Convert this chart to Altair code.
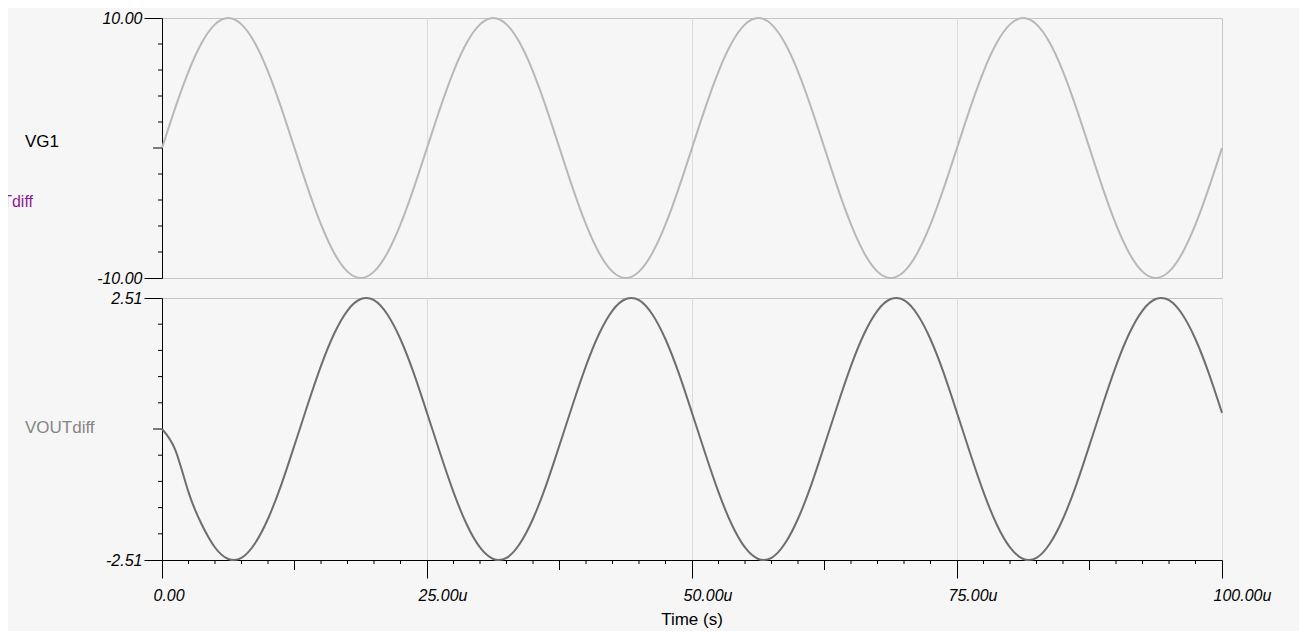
import altair as alt
import pandas as pd

# ---------------- data ----------------
time_us = [0, 1.25, 2.5, 3.75, 5, 6.25, 7.5, 8.75, 10, 11.25, 12.5, 13.75, 15, 16.25, 17.5, 18.75, 20, 21.25, 22.5, 23.75,
           25, 26.25, 27.5, 28.75, 30, 31.25, 32.5, 33.75, 35, 36.25, 37.5, 38.75, 40, 41.25, 42.5, 43.75, 45, 46.25, 47.5, 48.75,
           50, 51.25, 52.5, 53.75, 55, 56.25, 57.5, 58.75, 60, 61.25, 62.5, 63.75, 65, 66.25, 67.5, 68.75, 70, 71.25, 72.5, 73.75,
           75, 76.25, 77.5, 78.75, 80, 81.25, 82.5, 83.75, 85, 86.25, 87.5, 88.75, 90, 91.25, 92.5, 93.75, 95, 96.25, 97.5, 98.75,
           100]

vg1 = [0, 3.09, 5.88, 8.09, 9.51, 10.0, 9.51, 8.09, 5.88, 3.09, 0, -3.09, -5.88, -8.09, -9.51, -10.0, -9.51, -8.09, -5.88, -3.09,
       0, 3.09, 5.88, 8.09, 9.51, 10.0, 9.51, 8.09, 5.88, 3.09, 0, -3.09, -5.88, -8.09, -9.51, -10.0, -9.51, -8.09, -5.88, -3.09,
       0, 3.09, 5.88, 8.09, 9.51, 10.0, 9.51, 8.09, 5.88, 3.09, 0, -3.09, -5.88, -8.09, -9.51, -10.0, -9.51, -8.09, -5.88, -3.09,
       0, 3.09, 5.88, 8.09, 9.51, 10.0, 9.51, 8.09, 5.88, 3.09, 0, -3.09, -5.88, -8.09, -9.51, -10.0, -9.51, -8.09, -5.88, -3.09,
       0]

vout = [0.0, -0.40, -1.21, -1.83, -2.27, -2.49, -2.47, -2.20, -1.72, -1.07, -0.31, 0.47, 1.21, 1.83, 2.27, 2.49, 2.47, 2.20, 1.72, 1.07,
        0.31, -0.47, -1.21, -1.83, -2.27, -2.49, -2.47, -2.20, -1.72, -1.07, -0.31, 0.47, 1.21, 1.83, 2.27, 2.49, 2.47, 2.20, 1.72, 1.07,
        0.31, -0.47, -1.21, -1.83, -2.27, -2.49, -2.47, -2.20, -1.72, -1.07, -0.31, 0.47, 1.21, 1.83, 2.27, 2.49, 2.47, 2.20, 1.72, 1.07,
        0.31, -0.47, -1.21, -1.83, -2.27, -2.49, -2.47, -2.20, -1.72, -1.07, -0.31, 0.47, 1.21, 1.83, 2.27, 2.49, 2.47, 2.20, 1.72, 1.07,
        0.31]

x_major = [0, 25, 50, 75, 100]
x_grid = [25, 50, 75]
x_mid = [12.5, 37.5, 62.5, 87.5]
x_minor = [2.5, 5, 7.5, 10, 15, 17.5, 20, 22.5, 27.5, 30, 32.5, 35, 40, 42.5, 45, 47.5,
           52.5, 55, 57.5, 60, 65, 67.5, 70, 72.5, 77.5, 80, 82.5, 85, 90, 92.5, 95, 97.5]

vg1_major = [-10, 10]
vg1_mid = [0]
vg1_minor = [-8, -6, -4, -2, 2, 4, 6, 8]

vout_major = [-2.51, 2.51]
vout_mid = [0]
vout_minor = [-2.008, -1.506, -1.004, -0.502, 0.502, 1.004, 1.506, 2.008]

top_label = ["VG1"]
side_label = ["VOUTdiff"]
x_title = ["Time (s)"]

# ---------------- styling ----------------
W = 1060
H1 = 260
H2 = 262
FONT = "Liberation Sans"
TOP_COLOR = "#b8b8b8"
BOT_COLOR = "#6e6e6e"
GRID = "#dcdcdc"

xscale = alt.Scale(domain=[0, 100], nice=False, zero=False)
yexpr = "(datum.value < 0 ? '-' : '') + format(abs(datum.value), '.2f')"


def yaxis(vals):
    return alt.Axis(values=vals, labelExpr=yexpr, tickSize=18, tickColor="black", domainColor="black",
                    labelColor="black", labelFont=FONT, labelFontSize=16, labelFontStyle="italic",
                    labelPadding=2, grid=False, title=None)


def tick_rules(vals, field, length, horizontal):
    df = pd.DataFrame({field: vals})
    ch = alt.Chart(df).mark_rule(color="black", strokeWidth=1)
    if horizontal:
        return ch.encode(y=alt.Y(f"{field}:Q"), x=alt.value(-length), x2=alt.value(0))
    return ch.encode(x=alt.X(f"{field}:Q"), y=alt.value(H2), y2=alt.value(H2 + length))


# ---------------- top panel (VG1) ----------------
top_line = alt.Chart(pd.DataFrame({"t": time_us, "v": vg1})).mark_line(
    color=TOP_COLOR, strokeWidth=2, interpolate="natural"
).encode(
    x=alt.X("t:Q", scale=xscale,
            axis=alt.Axis(values=x_grid, grid=True, gridColor=GRID, labels=False, ticks=False,
                          domain=False, title=None)),
    y=alt.Y("v:Q", scale=alt.Scale(domain=[-10, 10], nice=False, zero=False), axis=yaxis(vg1_major)),
)

top_text = alt.Chart(pd.DataFrame({"label": top_label})).mark_text(
    align="left", baseline="alphabetic", font=FONT, fontSize=17, color="black"
).encode(text="label:N", x=alt.value(-137), y=alt.value(129))

purple_text = alt.Chart(pd.DataFrame({"label": side_label})).mark_text(
    align="right", baseline="alphabetic", font=FONT, fontSize=16, color="#8e1a8e"
).encode(text="label:N", x=alt.value(-129), y=alt.value(189))

top = alt.layer(
    top_line,
    tick_rules(vg1_minor, "v", 4, True),
    tick_rules(vg1_mid, "v", 9, True),
    top_text,
    purple_text,
).properties(width=W, height=H1)

# ---------------- bottom panel (VOUTdiff) ----------------
bot_line = alt.Chart(pd.DataFrame({"t": time_us, "v": vout})).mark_line(
    color=BOT_COLOR, strokeWidth=2, interpolate="natural"
).encode(
    x=alt.X("t:Q", scale=xscale,
            axis=alt.Axis(values=x_major, grid=True, gridColor=GRID, tickSize=18, tickColor="black",
                          domainColor="black", labelColor="black", labelFont=FONT, labelFontSize=16,
                          labelFontStyle="italic", labelAlign="left", labelOffset=-9, labelPadding=9,
                          labelExpr="datum.value == 0 ? '0.00' : format(datum.value, '.2f') + 'u'",
                          labelFlush=False, labelOverlap=False, title=None)),
    y=alt.Y("v:Q", scale=alt.Scale(domain=[-2.51, 2.51], nice=False, zero=False), axis=yaxis(vout_major)),
)

bot_text = alt.Chart(pd.DataFrame({"label": side_label})).mark_text(
    align="left", baseline="alphabetic", font=FONT, fontSize=17, color="#858585"
).encode(text="label:N", x=alt.value(-137), y=alt.value(135))

title_text = alt.Chart(pd.DataFrame({"label": x_title})).mark_text(
    align="center", baseline="alphabetic", font=FONT, fontSize=17, color="black"
).encode(text="label:N", x=alt.value(W / 2), y=alt.value(H2 + 65))

bottom = alt.layer(
    bot_line,
    tick_rules(vout_minor, "v", 4, True),
    tick_rules(vout_mid, "v", 9, True),
    tick_rules(x_minor, "t", 4, False),
    tick_rules(x_mid, "t", 10, False),
    bot_text,
    title_text,
).properties(width=W, height=H2)

chart = alt.vconcat(top, bottom, spacing=2).properties(
    autosize=alt.AutoSizeParams(type="none"),
    padding={"left": 154, "top": 10, "right": 77, "bottom": 613},
    background="#f6f6f6",
).configure_view(stroke="#c6c6c6", strokeWidth=1)

chart.save("out.html", embed_options={"renderer": "svg", "actions": False})
